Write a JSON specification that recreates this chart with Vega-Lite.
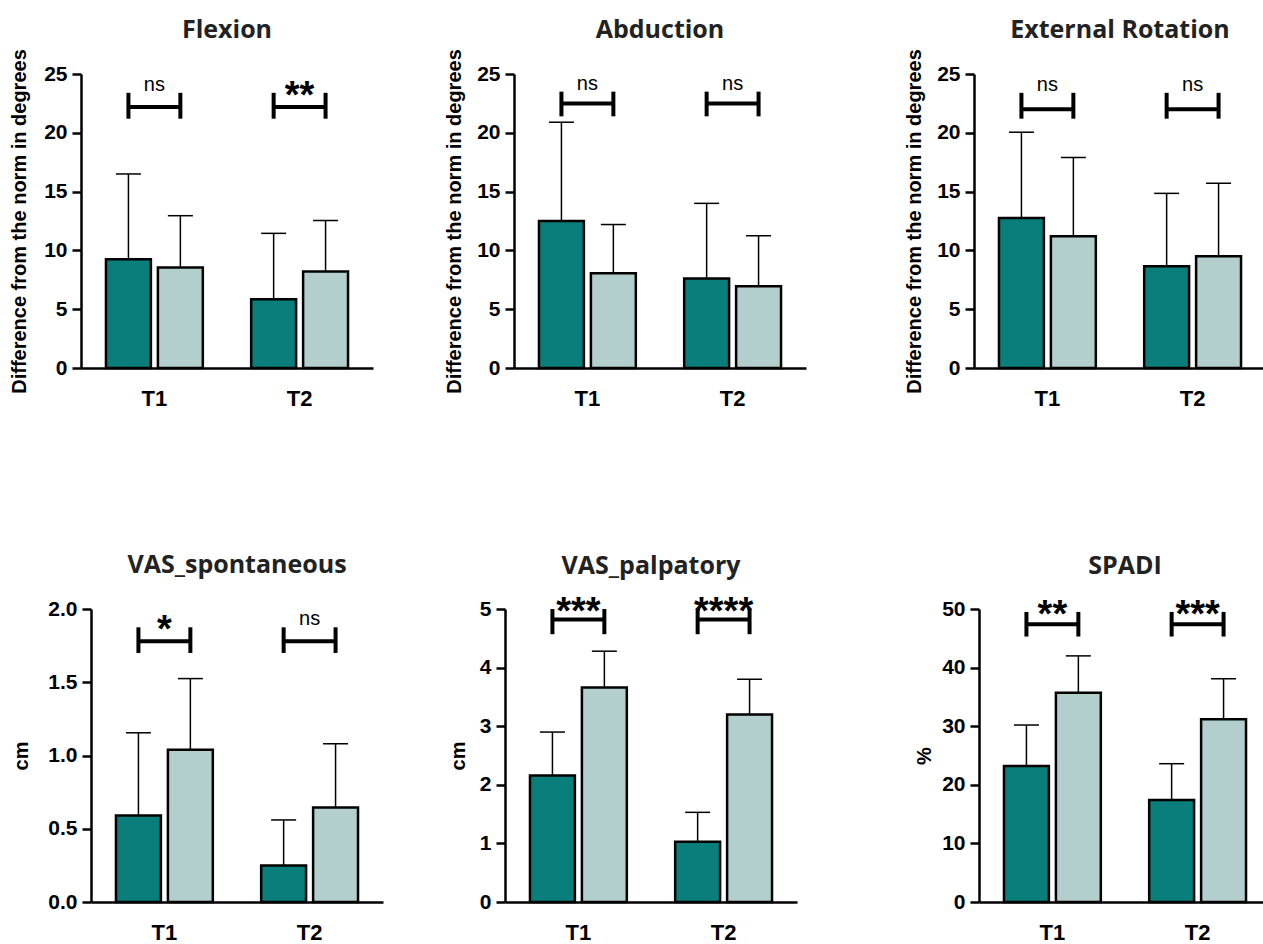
{
  "$schema": "https://vega.github.io/schema/vega-lite/v6.json",
  "padding": {"left": 2, "top": 17, "right": 0, "bottom": 0},
  "background": "white",
  "datasets": {
    "bars": [
      {"panel": "Flexion", "time": "T1", "group": "Group A", "mean": 9.25, "upper": 16.5},
      {"panel": "Flexion", "time": "T1", "group": "Group B", "mean": 8.55, "upper": 12.95},
      {"panel": "Flexion", "time": "T2", "group": "Group A", "mean": 5.85, "upper": 11.45},
      {"panel": "Flexion", "time": "T2", "group": "Group B", "mean": 8.2, "upper": 12.55},
      {"panel": "Abduction", "time": "T1", "group": "Group A", "mean": 12.5, "upper": 20.9},
      {"panel": "Abduction", "time": "T1", "group": "Group B", "mean": 8.05, "upper": 12.2},
      {"panel": "Abduction", "time": "T2", "group": "Group A", "mean": 7.6, "upper": 14.0},
      {"panel": "Abduction", "time": "T2", "group": "Group B", "mean": 6.95, "upper": 11.25},
      {"panel": "External Rotation", "time": "T1", "group": "Group A", "mean": 12.75, "upper": 20.05},
      {"panel": "External Rotation", "time": "T1", "group": "Group B", "mean": 11.2, "upper": 17.9},
      {"panel": "External Rotation", "time": "T2", "group": "Group A", "mean": 8.65, "upper": 14.85},
      {"panel": "External Rotation", "time": "T2", "group": "Group B", "mean": 9.5, "upper": 15.7},
      {"panel": "VAS_spontaneous", "time": "T1", "group": "Group A", "mean": 0.59, "upper": 1.155},
      {"panel": "VAS_spontaneous", "time": "T1", "group": "Group B", "mean": 1.04, "upper": 1.525},
      {"panel": "VAS_spontaneous", "time": "T2", "group": "Group A", "mean": 0.25, "upper": 0.56},
      {"panel": "VAS_spontaneous", "time": "T2", "group": "Group B", "mean": 0.645, "upper": 1.08},
      {"panel": "VAS_palpatory", "time": "T1", "group": "Group A", "mean": 2.16, "upper": 2.9},
      {"panel": "VAS_palpatory", "time": "T1", "group": "Group B", "mean": 3.66, "upper": 4.28},
      {"panel": "VAS_palpatory", "time": "T2", "group": "Group A", "mean": 1.03, "upper": 1.53},
      {"panel": "VAS_palpatory", "time": "T2", "group": "Group B", "mean": 3.2, "upper": 3.8},
      {"panel": "SPADI", "time": "T1", "group": "Group A", "mean": 23.2, "upper": 30.2},
      {"panel": "SPADI", "time": "T1", "group": "Group B", "mean": 35.7, "upper": 42.0},
      {"panel": "SPADI", "time": "T2", "group": "Group A", "mean": 17.4, "upper": 23.6},
      {"panel": "SPADI", "time": "T2", "group": "Group B", "mean": 31.2, "upper": 38.1}
    ],
    "brackets": [
      {"panel": "Flexion", "time": "T1", "label": "ns", "line": 22.2, "lo": 21.2, "hi": 23.4, "ends": ["Group A", "Group B"]},
      {"panel": "Flexion", "time": "T2", "label": "**", "line": 22.2, "lo": 21.2, "hi": 23.4, "ends": ["Group A", "Group B"]},
      {"panel": "Abduction", "time": "T1", "label": "ns", "line": 22.5, "lo": 21.4, "hi": 23.5, "ends": ["Group A", "Group B"]},
      {"panel": "Abduction", "time": "T2", "label": "ns", "line": 22.5, "lo": 21.4, "hi": 23.5, "ends": ["Group A", "Group B"]},
      {"panel": "External Rotation", "time": "T1", "label": "ns", "line": 22.0, "lo": 21.2, "hi": 23.4, "ends": ["Group A", "Group B"]},
      {"panel": "External Rotation", "time": "T2", "label": "ns", "line": 22.0, "lo": 21.2, "hi": 23.4, "ends": ["Group A", "Group B"]},
      {"panel": "VAS_spontaneous", "time": "T1", "label": "*", "line": 1.78, "lo": 1.7, "hi": 1.875, "ends": ["Group A", "Group B"]},
      {"panel": "VAS_spontaneous", "time": "T2", "label": "ns", "line": 1.78, "lo": 1.7, "hi": 1.875, "ends": ["Group A", "Group B"]},
      {"panel": "VAS_palpatory", "time": "T1", "label": "***", "line": 4.82, "lo": 4.57, "hi": 5.0, "ends": ["Group A", "Group B"]},
      {"panel": "VAS_palpatory", "time": "T2", "label": "****", "line": 4.82, "lo": 4.57, "hi": 5.0, "ends": ["Group A", "Group B"]},
      {"panel": "SPADI", "time": "T1", "label": "**", "line": 47.4, "lo": 45.3, "hi": 49.5, "ends": ["Group A", "Group B"]},
      {"panel": "SPADI", "time": "T2", "label": "***", "line": 47.4, "lo": 45.3, "hi": 49.5, "ends": ["Group A", "Group B"]}
    ]
  },
  "config": {
    "view": {"stroke": null},
    "axis": {"domainColor": "black", "domainWidth": 2.5, "tickColor": "black", "tickWidth": 2.5, "labelFont": "Liberation Sans", "labelFontWeight": "bold", "labelColor": "black", "titleFont": "Liberation Sans", "titleFontWeight": "bold", "titleColor": "black", "grid": false},
    "axisX": {"ticks": false, "labelFontSize": 22, "labelPadding": 20, "labelAngle": 0},
    "axisY": {"labelFontSize": 21, "tickSize": 9, "labelPadding": 5, "titleFontSize": 20, "minExtent": 36, "maxExtent": 36},
    "title": {"font": "Open Sans", "fontSize": 25, "fontWeight": "bold", "color": "#222222", "anchor": "middle"},
    "tick": {"opacity": 1}
  },
  "spacing": 144,
  "vconcat": [
    {
      "spacing": 5,
      "hconcat": [
        {"width": 2, "height": 1, "data": {"values": []}, "mark": "point", "encoding": {}},
        {
          "width": 292, "height": 294, "title": {"text": "Flexion", "offset": 6},
          "layer": [
            {"data": {"name": "bars"}, "transform": [{"filter": "datum.panel === 'Flexion'"}], "mark": {"type": "bar", "stroke": "black", "strokeWidth": 2.5},
             "encoding": {"x": {"field": "time", "type": "nominal", "scale": {"domain": ["T1", "T2"], "paddingInner": 0.333, "paddingOuter": 0.172}, "axis": {"title": null}},
              "xOffset": {"field": "group", "type": "nominal", "scale": {"domain": ["Group A", "Group B"], "paddingInner": 0.135}},
              "y": {"field": "mean", "type": "quantitative", "scale": {"domain": [0, 25], "nice": false}, "axis": {"title": "Difference from the norm in degrees", "titlePadding": 15.5, "values": [0, 5, 10, 15, 20, 25], "format": "d"}},
              "color": {"field": "group", "type": "nominal", "scale": {"domain": ["Group A", "Group B"], "range": ["#0a7e7b", "#b2cecd"]}, "legend": null}}},
            {"data": {"name": "bars"}, "transform": [{"filter": "datum.panel === 'Flexion'"}], "mark": {"type": "rule", "color": "black", "strokeWidth": 1.5},
             "encoding": {"x": {"field": "time", "type": "nominal"}, "xOffset": {"field": "group", "type": "nominal"}, "y": {"field": "mean", "type": "quantitative"}, "y2": {"field": "upper"}}},
            {"data": {"name": "bars"}, "transform": [{"filter": "datum.panel === 'Flexion'"}], "mark": {"type": "tick", "color": "black", "thickness": 1.5, "size": 25},
             "encoding": {"x": {"field": "time", "type": "nominal"}, "xOffset": {"field": "group", "type": "nominal"}, "y": {"field": "upper", "type": "quantitative"}}},
            {"data": {"name": "brackets"}, "transform": [{"filter": "datum.panel === 'Flexion'"}, {"flatten": ["ends"], "as": ["group"]}], "mark": {"type": "rule", "color": "black", "strokeWidth": 4},
             "encoding": {"x": {"field": "time", "type": "nominal"}, "xOffset": {"field": "group", "type": "nominal"}, "y": {"field": "lo", "type": "quantitative"}, "y2": {"field": "hi"}}},
            {"data": {"name": "brackets"}, "transform": [{"filter": "datum.panel === 'Flexion'"}], "mark": {"type": "tick", "color": "black", "thickness": 4, "size": 52},
             "encoding": {"x": {"field": "time", "type": "nominal"}, "y": {"field": "line", "type": "quantitative"}}},
            {"data": {"name": "brackets"}, "transform": [{"filter": "datum.panel === 'Flexion' && datum.label === 'ns'"}], "mark": {"type": "text", "font": "Liberation Sans", "fontSize": 20, "baseline": "alphabetic", "dy": -2},
             "encoding": {"x": {"field": "time", "type": "nominal"}, "y": {"field": "hi", "type": "quantitative"}, "text": {"field": "label"}}},
            {"data": {"name": "brackets"}, "transform": [{"filter": "datum.panel === 'Flexion' && datum.label !== 'ns'"}], "mark": {"type": "text", "font": "Liberation Sans", "fontSize": 38, "fontWeight": "bold", "baseline": "alphabetic", "dy": 15},
             "encoding": {"x": {"field": "time", "type": "nominal"}, "y": {"field": "hi", "type": "quantitative"}, "text": {"field": "label"}}}
          ]
        },
        {"width": 60, "height": 1, "data": {"values": []}, "mark": "point", "encoding": {}},
        {
          "width": 292, "height": 294, "title": {"text": "Abduction", "offset": 6},
          "layer": [
            {"data": {"name": "bars"}, "transform": [{"filter": "datum.panel === 'Abduction'"}], "mark": {"type": "bar", "stroke": "black", "strokeWidth": 2.5},
             "encoding": {"x": {"field": "time", "type": "nominal", "scale": {"domain": ["T1", "T2"], "paddingInner": 0.333, "paddingOuter": 0.172}, "axis": {"title": null}},
              "xOffset": {"field": "group", "type": "nominal", "scale": {"domain": ["Group A", "Group B"], "paddingInner": 0.135}},
              "y": {"field": "mean", "type": "quantitative", "scale": {"domain": [0, 25], "nice": false}, "axis": {"title": "Difference from the norm in degrees", "titlePadding": 14, "values": [0, 5, 10, 15, 20, 25], "format": "d"}},
              "color": {"field": "group", "type": "nominal", "scale": {"domain": ["Group A", "Group B"], "range": ["#0a7e7b", "#b2cecd"]}, "legend": null}}},
            {"data": {"name": "bars"}, "transform": [{"filter": "datum.panel === 'Abduction'"}], "mark": {"type": "rule", "color": "black", "strokeWidth": 1.5},
             "encoding": {"x": {"field": "time", "type": "nominal"}, "xOffset": {"field": "group", "type": "nominal"}, "y": {"field": "mean", "type": "quantitative"}, "y2": {"field": "upper"}}},
            {"data": {"name": "bars"}, "transform": [{"filter": "datum.panel === 'Abduction'"}], "mark": {"type": "tick", "color": "black", "thickness": 1.5, "size": 25},
             "encoding": {"x": {"field": "time", "type": "nominal"}, "xOffset": {"field": "group", "type": "nominal"}, "y": {"field": "upper", "type": "quantitative"}}},
            {"data": {"name": "brackets"}, "transform": [{"filter": "datum.panel === 'Abduction'"}, {"flatten": ["ends"], "as": ["group"]}], "mark": {"type": "rule", "color": "black", "strokeWidth": 4},
             "encoding": {"x": {"field": "time", "type": "nominal"}, "xOffset": {"field": "group", "type": "nominal"}, "y": {"field": "lo", "type": "quantitative"}, "y2": {"field": "hi"}}},
            {"data": {"name": "brackets"}, "transform": [{"filter": "datum.panel === 'Abduction'"}], "mark": {"type": "tick", "color": "black", "thickness": 4, "size": 52},
             "encoding": {"x": {"field": "time", "type": "nominal"}, "y": {"field": "line", "type": "quantitative"}}},
            {"data": {"name": "brackets"}, "transform": [{"filter": "datum.panel === 'Abduction' && datum.label === 'ns'"}], "mark": {"type": "text", "font": "Liberation Sans", "fontSize": 20, "baseline": "alphabetic", "dy": -2},
             "encoding": {"x": {"field": "time", "type": "nominal"}, "y": {"field": "hi", "type": "quantitative"}, "text": {"field": "label"}}},
            {"data": {"name": "brackets"}, "transform": [{"filter": "datum.panel === 'Abduction' && datum.label !== 'ns'"}], "mark": {"type": "text", "font": "Liberation Sans", "fontSize": 38, "fontWeight": "bold", "baseline": "alphabetic", "dy": 15},
             "encoding": {"x": {"field": "time", "type": "nominal"}, "y": {"field": "hi", "type": "quantitative"}, "text": {"field": "label"}}}
          ]
        },
        {"width": 87, "height": 1, "data": {"values": []}, "mark": "point", "encoding": {}},
        {
          "width": 292, "height": 294, "title": {"text": "External Rotation", "offset": 6},
          "layer": [
            {"data": {"name": "bars"}, "transform": [{"filter": "datum.panel === 'External Rotation'"}], "mark": {"type": "bar", "stroke": "black", "strokeWidth": 2.5},
             "encoding": {"x": {"field": "time", "type": "nominal", "scale": {"domain": ["T1", "T2"], "paddingInner": 0.333, "paddingOuter": 0.172}, "axis": {"title": null}},
              "xOffset": {"field": "group", "type": "nominal", "scale": {"domain": ["Group A", "Group B"], "paddingInner": 0.135}},
              "y": {"field": "mean", "type": "quantitative", "scale": {"domain": [0, 25], "nice": false}, "axis": {"title": "Difference from the norm in degrees", "titlePadding": 14, "values": [0, 5, 10, 15, 20, 25], "format": "d"}},
              "color": {"field": "group", "type": "nominal", "scale": {"domain": ["Group A", "Group B"], "range": ["#0a7e7b", "#b2cecd"]}, "legend": null}}},
            {"data": {"name": "bars"}, "transform": [{"filter": "datum.panel === 'External Rotation'"}], "mark": {"type": "rule", "color": "black", "strokeWidth": 1.5},
             "encoding": {"x": {"field": "time", "type": "nominal"}, "xOffset": {"field": "group", "type": "nominal"}, "y": {"field": "mean", "type": "quantitative"}, "y2": {"field": "upper"}}},
            {"data": {"name": "bars"}, "transform": [{"filter": "datum.panel === 'External Rotation'"}], "mark": {"type": "tick", "color": "black", "thickness": 1.5, "size": 25},
             "encoding": {"x": {"field": "time", "type": "nominal"}, "xOffset": {"field": "group", "type": "nominal"}, "y": {"field": "upper", "type": "quantitative"}}},
            {"data": {"name": "brackets"}, "transform": [{"filter": "datum.panel === 'External Rotation'"}, {"flatten": ["ends"], "as": ["group"]}], "mark": {"type": "rule", "color": "black", "strokeWidth": 4},
             "encoding": {"x": {"field": "time", "type": "nominal"}, "xOffset": {"field": "group", "type": "nominal"}, "y": {"field": "lo", "type": "quantitative"}, "y2": {"field": "hi"}}},
            {"data": {"name": "brackets"}, "transform": [{"filter": "datum.panel === 'External Rotation'"}], "mark": {"type": "tick", "color": "black", "thickness": 4, "size": 52},
             "encoding": {"x": {"field": "time", "type": "nominal"}, "y": {"field": "line", "type": "quantitative"}}},
            {"data": {"name": "brackets"}, "transform": [{"filter": "datum.panel === 'External Rotation' && datum.label === 'ns'"}], "mark": {"type": "text", "font": "Liberation Sans", "fontSize": 20, "baseline": "alphabetic", "dy": -2},
             "encoding": {"x": {"field": "time", "type": "nominal"}, "y": {"field": "hi", "type": "quantitative"}, "text": {"field": "label"}}},
            {"data": {"name": "brackets"}, "transform": [{"filter": "datum.panel === 'External Rotation' && datum.label !== 'ns'"}], "mark": {"type": "text", "font": "Liberation Sans", "fontSize": 38, "fontWeight": "bold", "baseline": "alphabetic", "dy": 15},
             "encoding": {"x": {"field": "time", "type": "nominal"}, "y": {"field": "hi", "type": "quantitative"}, "text": {"field": "label"}}}
          ]
        }
      ]
    },
    {
      "spacing": 5,
      "hconcat": [
        {"width": 4, "height": 1, "data": {"values": []}, "mark": "point", "encoding": {}},
        {
          "width": 292, "height": 293, "title": {"text": "VAS_spontaneous", "offset": 20},
          "layer": [
            {"data": {"name": "bars"}, "transform": [{"filter": "datum.panel === 'VAS_spontaneous'"}], "mark": {"type": "bar", "stroke": "black", "strokeWidth": 2.5},
             "encoding": {"x": {"field": "time", "type": "nominal", "scale": {"domain": ["T1", "T2"], "paddingInner": 0.333, "paddingOuter": 0.172}, "axis": {"title": null}},
              "xOffset": {"field": "group", "type": "nominal", "scale": {"domain": ["Group A", "Group B"], "paddingInner": 0.135}},
              "y": {"field": "mean", "type": "quantitative", "scale": {"domain": [0, 2], "nice": false}, "axis": {"title": "cm", "titlePadding": 23.5, "values": [0, 0.5, 1, 1.5, 2], "format": ".1f"}},
              "color": {"field": "group", "type": "nominal", "scale": {"domain": ["Group A", "Group B"], "range": ["#0a7e7b", "#b2cecd"]}, "legend": null}}},
            {"data": {"name": "bars"}, "transform": [{"filter": "datum.panel === 'VAS_spontaneous'"}], "mark": {"type": "rule", "color": "black", "strokeWidth": 1.5},
             "encoding": {"x": {"field": "time", "type": "nominal"}, "xOffset": {"field": "group", "type": "nominal"}, "y": {"field": "mean", "type": "quantitative"}, "y2": {"field": "upper"}}},
            {"data": {"name": "bars"}, "transform": [{"filter": "datum.panel === 'VAS_spontaneous'"}], "mark": {"type": "tick", "color": "black", "thickness": 1.5, "size": 25},
             "encoding": {"x": {"field": "time", "type": "nominal"}, "xOffset": {"field": "group", "type": "nominal"}, "y": {"field": "upper", "type": "quantitative"}}},
            {"data": {"name": "brackets"}, "transform": [{"filter": "datum.panel === 'VAS_spontaneous'"}, {"flatten": ["ends"], "as": ["group"]}], "mark": {"type": "rule", "color": "black", "strokeWidth": 4},
             "encoding": {"x": {"field": "time", "type": "nominal"}, "xOffset": {"field": "group", "type": "nominal"}, "y": {"field": "lo", "type": "quantitative"}, "y2": {"field": "hi"}}},
            {"data": {"name": "brackets"}, "transform": [{"filter": "datum.panel === 'VAS_spontaneous'"}], "mark": {"type": "tick", "color": "black", "thickness": 4, "size": 52},
             "encoding": {"x": {"field": "time", "type": "nominal"}, "y": {"field": "line", "type": "quantitative"}}},
            {"data": {"name": "brackets"}, "transform": [{"filter": "datum.panel === 'VAS_spontaneous' && datum.label === 'ns'"}], "mark": {"type": "text", "font": "Liberation Sans", "fontSize": 20, "baseline": "alphabetic", "dy": -2},
             "encoding": {"x": {"field": "time", "type": "nominal"}, "y": {"field": "hi", "type": "quantitative"}, "text": {"field": "label"}}},
            {"data": {"name": "brackets"}, "transform": [{"filter": "datum.panel === 'VAS_spontaneous' && datum.label !== 'ns'"}], "mark": {"type": "text", "font": "Liberation Sans", "fontSize": 38, "fontWeight": "bold", "baseline": "alphabetic", "dy": 15},
             "encoding": {"x": {"field": "time", "type": "nominal"}, "y": {"field": "hi", "type": "quantitative"}, "text": {"field": "label"}}}
          ]
        },
        {"width": 54.5, "height": 1, "data": {"values": []}, "mark": "point", "encoding": {}},
        {
          "width": 292, "height": 293, "title": {"text": "VAS_palpatory", "offset": 15},
          "layer": [
            {"data": {"name": "bars"}, "transform": [{"filter": "datum.panel === 'VAS_palpatory'"}], "mark": {"type": "bar", "stroke": "black", "strokeWidth": 2.5},
             "encoding": {"x": {"field": "time", "type": "nominal", "scale": {"domain": ["T1", "T2"], "paddingInner": 0.333, "paddingOuter": 0.172}, "axis": {"title": null}},
              "xOffset": {"field": "group", "type": "nominal", "scale": {"domain": ["Group A", "Group B"], "paddingInner": 0.135}},
              "y": {"field": "mean", "type": "quantitative", "scale": {"domain": [0, 5], "nice": false}, "axis": {"title": "cm", "titlePadding": 1, "values": [0, 1, 2, 3, 4, 5], "format": "d"}},
              "color": {"field": "group", "type": "nominal", "scale": {"domain": ["Group A", "Group B"], "range": ["#0a7e7b", "#b2cecd"]}, "legend": null}}},
            {"data": {"name": "bars"}, "transform": [{"filter": "datum.panel === 'VAS_palpatory'"}], "mark": {"type": "rule", "color": "black", "strokeWidth": 1.5},
             "encoding": {"x": {"field": "time", "type": "nominal"}, "xOffset": {"field": "group", "type": "nominal"}, "y": {"field": "mean", "type": "quantitative"}, "y2": {"field": "upper"}}},
            {"data": {"name": "bars"}, "transform": [{"filter": "datum.panel === 'VAS_palpatory'"}], "mark": {"type": "tick", "color": "black", "thickness": 1.5, "size": 25},
             "encoding": {"x": {"field": "time", "type": "nominal"}, "xOffset": {"field": "group", "type": "nominal"}, "y": {"field": "upper", "type": "quantitative"}}},
            {"data": {"name": "brackets"}, "transform": [{"filter": "datum.panel === 'VAS_palpatory'"}, {"flatten": ["ends"], "as": ["group"]}], "mark": {"type": "rule", "color": "black", "strokeWidth": 4},
             "encoding": {"x": {"field": "time", "type": "nominal"}, "xOffset": {"field": "group", "type": "nominal"}, "y": {"field": "lo", "type": "quantitative"}, "y2": {"field": "hi"}}},
            {"data": {"name": "brackets"}, "transform": [{"filter": "datum.panel === 'VAS_palpatory'"}], "mark": {"type": "tick", "color": "black", "thickness": 4, "size": 52},
             "encoding": {"x": {"field": "time", "type": "nominal"}, "y": {"field": "line", "type": "quantitative"}}},
            {"data": {"name": "brackets"}, "transform": [{"filter": "datum.panel === 'VAS_palpatory' && datum.label === 'ns'"}], "mark": {"type": "text", "font": "Liberation Sans", "fontSize": 20, "baseline": "alphabetic", "dy": -2},
             "encoding": {"x": {"field": "time", "type": "nominal"}, "y": {"field": "hi", "type": "quantitative"}, "text": {"field": "label"}}},
            {"data": {"name": "brackets"}, "transform": [{"filter": "datum.panel === 'VAS_palpatory' && datum.label !== 'ns'"}], "mark": {"type": "text", "font": "Liberation Sans", "fontSize": 38, "fontWeight": "bold", "baseline": "alphabetic", "dy": 15},
             "encoding": {"x": {"field": "time", "type": "nominal"}, "y": {"field": "hi", "type": "quantitative"}, "text": {"field": "label"}}}
          ]
        },
        {"width": 107, "height": 1, "data": {"values": []}, "mark": "point", "encoding": {}},
        {
          "width": 292, "height": 293, "title": {"text": "SPADI", "offset": 18},
          "layer": [
            {"data": {"name": "bars"}, "transform": [{"filter": "datum.panel === 'SPADI'"}], "mark": {"type": "bar", "stroke": "black", "strokeWidth": 2.5},
             "encoding": {"x": {"field": "time", "type": "nominal", "scale": {"domain": ["T1", "T2"], "paddingInner": 0.333, "paddingOuter": 0.172}, "axis": {"title": null}},
              "xOffset": {"field": "group", "type": "nominal", "scale": {"domain": ["Group A", "Group B"], "paddingInner": 0.135}},
              "y": {"field": "mean", "type": "quantitative", "scale": {"domain": [0, 50], "nice": false}, "axis": {"title": "%", "titlePadding": 9, "values": [0, 10, 20, 30, 40, 50], "format": "d"}},
              "color": {"field": "group", "type": "nominal", "scale": {"domain": ["Group A", "Group B"], "range": ["#0a7e7b", "#b2cecd"]}, "legend": null}}},
            {"data": {"name": "bars"}, "transform": [{"filter": "datum.panel === 'SPADI'"}], "mark": {"type": "rule", "color": "black", "strokeWidth": 1.5},
             "encoding": {"x": {"field": "time", "type": "nominal"}, "xOffset": {"field": "group", "type": "nominal"}, "y": {"field": "mean", "type": "quantitative"}, "y2": {"field": "upper"}}},
            {"data": {"name": "bars"}, "transform": [{"filter": "datum.panel === 'SPADI'"}], "mark": {"type": "tick", "color": "black", "thickness": 1.5, "size": 25},
             "encoding": {"x": {"field": "time", "type": "nominal"}, "xOffset": {"field": "group", "type": "nominal"}, "y": {"field": "upper", "type": "quantitative"}}},
            {"data": {"name": "brackets"}, "transform": [{"filter": "datum.panel === 'SPADI'"}, {"flatten": ["ends"], "as": ["group"]}], "mark": {"type": "rule", "color": "black", "strokeWidth": 4},
             "encoding": {"x": {"field": "time", "type": "nominal"}, "xOffset": {"field": "group", "type": "nominal"}, "y": {"field": "lo", "type": "quantitative"}, "y2": {"field": "hi"}}},
            {"data": {"name": "brackets"}, "transform": [{"filter": "datum.panel === 'SPADI'"}], "mark": {"type": "tick", "color": "black", "thickness": 4, "size": 52},
             "encoding": {"x": {"field": "time", "type": "nominal"}, "y": {"field": "line", "type": "quantitative"}}},
            {"data": {"name": "brackets"}, "transform": [{"filter": "datum.panel === 'SPADI' && datum.label === 'ns'"}], "mark": {"type": "text", "font": "Liberation Sans", "fontSize": 20, "baseline": "alphabetic", "dy": -2},
             "encoding": {"x": {"field": "time", "type": "nominal"}, "y": {"field": "hi", "type": "quantitative"}, "text": {"field": "label"}}},
            {"data": {"name": "brackets"}, "transform": [{"filter": "datum.panel === 'SPADI' && datum.label !== 'ns'"}], "mark": {"type": "text", "font": "Liberation Sans", "fontSize": 38, "fontWeight": "bold", "baseline": "alphabetic", "dy": 15},
             "encoding": {"x": {"field": "time", "type": "nominal"}, "y": {"field": "hi", "type": "quantitative"}, "text": {"field": "label"}}}
          ]
        }
      ]
    }
  ]
}
